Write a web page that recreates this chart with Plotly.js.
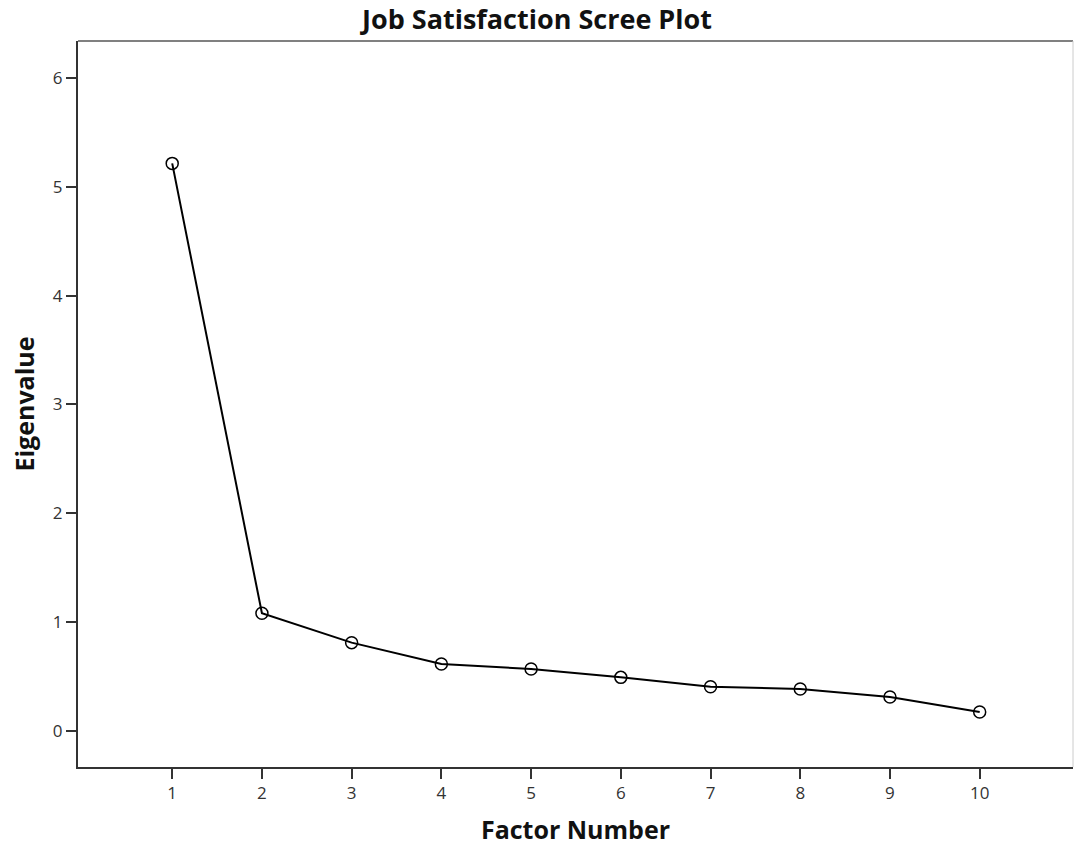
<!DOCTYPE html>
<html>
<head>
<meta charset="utf-8">
<script src="https://cdn.plot.ly/plotly-3.0.1.min.js"></script>
<style>html,body{margin:0;padding:0;background:#fff;}#chart{width:1074px;height:849px;}</style>
</head>
<body>
<div id="chart"></div>
<script>
const factorNumbers = [1, 2, 3, 4, 5, 6, 7, 8, 9, 10];
const eigenvalues = [5.215, 1.079, 0.809, 0.613, 0.567, 0.49, 0.404, 0.383, 0.31, 0.172];
const xTickValues = [1, 2, 3, 4, 5, 6, 7, 8, 9, 10];
const yTickValues = [0, 1, 2, 3, 4, 5, 6];

const trace = {
  x: factorNumbers,
  y: eigenvalues,
  type: 'scatter',
  mode: 'lines+markers',
  line: {color: '#000000', width: 2},
  marker: {symbol: 'circle-open', size: 12, color: '#000000', line: {width: 1.5, color: '#000000'}},
  hoverinfo: 'x+y',
  cliponaxis: false
};

const fontFam = '"Open Sans", "DejaVu Sans", sans-serif';
const layout = {
  width: 1074,
  height: 849,
  margin: {l: 78, r: 1, t: 41, b: 82},
  paper_bgcolor: '#ffffff',
  plot_bgcolor: '#ffffff',
  showlegend: false,
  font: {family: fontFam, color: '#222222'},
  title: {
    text: '<b>Job Satisfaction Scree Plot</b>',
    font: {family: fontFam, size: 27, color: '#111111'},
    x: 0.5, xanchor: 'center', y: 0.977, yanchor: 'middle'
  },
  xaxis: {
    range: [-0.05, 11.04],
    tickmode: 'array',
    tickvals: xTickValues,
    ticktext: xTickValues.map(String),
    ticks: 'outside', ticklen: 10, tickwidth: 2, tickcolor: '#333333',
    showline: true, linecolor: '#333333', linewidth: 2,
    showgrid: false, zeroline: false,
    tickfont: {family: fontFam, size: 17, color: '#333333'},
    title: {text: '<b>Factor Number</b>', font: {family: fontFam, size: 25, color: '#111111'}, standoff: 18}
  },
  yaxis: {
    range: [-0.334, 6.34],
    tickmode: 'array',
    tickvals: yTickValues,
    ticktext: yTickValues.map(String),
    ticks: 'outside', ticklen: 10, tickwidth: 2, tickcolor: '#333333',
    showline: true, linecolor: '#333333', linewidth: 2,
    showgrid: false, zeroline: false,
    tickfont: {family: fontFam, size: 17, color: '#333333'},
    title: {text: '<b>Eigenvalue</b>', font: {family: fontFam, size: 25, color: '#111111'}, standoff: 11}
  },
  shapes: [
    {type: 'line', xref: 'paper', yref: 'paper', x0: 0, x1: 1, y0: 1, y1: 1, line: {color: '#808080', width: 2}},
    {type: 'line', xref: 'paper', yref: 'paper', x0: 1, x1: 1, y0: 0, y1: 1, line: {color: '#cccccc', width: 1}}
  ]
};

Plotly.newPlot('chart', [trace], layout, {displayModeBar: false, responsive: false});
</script>
</body>
</html>
